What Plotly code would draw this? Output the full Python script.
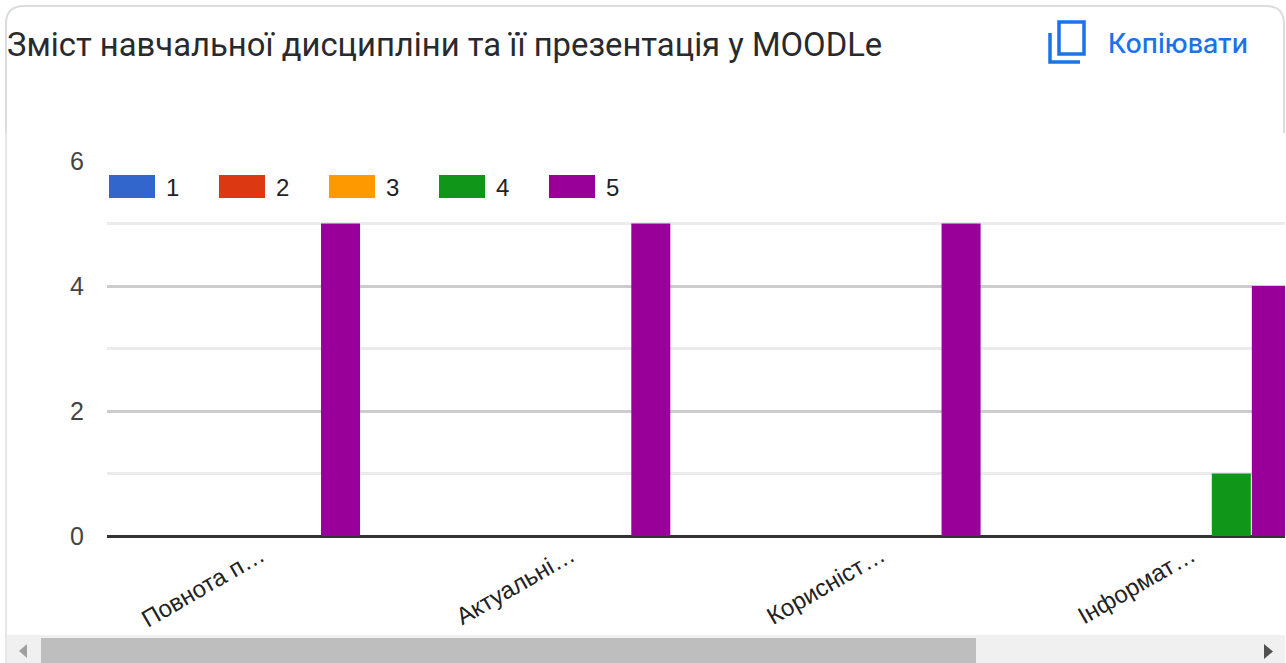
import plotly.graph_objects as go

categories = ["Повнота п…", "Актуальні…", "Корисніст…", "Інформат…"]
series_names = ["1", "2", "3", "4", "5"]
series_colors = ["#3366cc", "#dc3912", "#ff9900", "#109618", "#990099"]
values_1 = [0, 0, 0, 0]
values_2 = [0, 0, 0, 0]
values_3 = [0, 0, 0, 0]
values_4 = [0, 0, 0, 1]
values_5 = [5, 5, 5, 4]
all_values = [values_1, values_2, values_3, values_4, values_5]
title_text = "Зміст навчальної дисципліни та її презентація у MOODLe"
copy_text = "Копіювати"

W, H = 1286, 663
L, R, T, B = 107, 1285, 161, 536


def px(x):
    return (x - L) / (R - L)


def py(y):
    return (B - y) / (B - T)


def rect(x0, y0, x1, y1, fill, line=None, layer="above"):
    return dict(type="rect", xref="paper", yref="paper", x0=px(x0), x1=px(x1), y0=py(y0), y1=py(y1),
                fillcolor=fill, line=dict(width=0 if line is None else 1, color=line or fill), layer=layer)


def path(points, fill=None, color=None, width=0, closed=False):
    d = "M" + " L".join(f"{px(a)},{py(b)}" for a, b in points) + (" Z" if closed else "")
    return dict(type="path", xref="paper", yref="paper", path=d, fillcolor=fill or "rgba(0,0,0,0)",
                line=dict(color=color or "rgba(0,0,0,0)", width=width))


fig = go.Figure()
for name, color, vals in zip(series_names, series_colors, all_values):
    fig.add_bar(x=categories, y=vals, name=name, marker=dict(color=color, line=dict(width=0)), cliponaxis=True)

shapes = []
annots = []

# Legend row
swatch_x = [109, 219, 329, 439, 549]
for sx, name, color in zip(swatch_x, series_names, series_colors):
    shapes.append(rect(sx, 175, sx + 46, 198, color))
    annots.append(dict(text=name, xref="paper", yref="paper", x=px(sx + 55), y=py(187), xanchor="left",
                       yanchor="middle", showarrow=False,
                       font=dict(family="Liberation Sans", size=24, color="#222222")))

# Card border
c = "#dadce0"
shapes.append(dict(type="path", xref="paper", yref="paper", line=dict(color=c, width=2), fillcolor="rgba(0,0,0,0)",
                   path=f"M{px(6)},{py(133)} L{px(6)},{py(24)} Q{px(6)},{py(6)} {px(24)},{py(6)} "
                        f"L{px(1266)},{py(6)} Q{px(1284)},{py(6)} {px(1284)},{py(24)} L{px(1284)},{py(133)}"))
shapes.append(path([(6, 133), (6, 663)], color="#e6e6ee", width=2))

# Scrollbar
shapes.append(rect(7, 635, 1285, 663, "#f0f0f0"))
shapes.append(rect(41, 638, 976, 663, "#bebebe"))
shapes.append(path([(27, 644), (27, 658), (19, 651)], fill="#a0a0a0", closed=True))
shapes.append(path([(1264, 644), (1264, 659), (1273, 651.5)], fill="#505050", closed=True))

# Copy icon
blue = "#1a73e8"
shapes.append(dict(type="path", xref="paper", yref="paper", line=dict(color=blue, width=3.5), fillcolor="rgba(0,0,0,0)",
                   path=f"M{px(1059)},{py(22)} L{px(1084)},{py(22)} L{px(1084)},{py(54)} L{px(1059)},{py(54)} Z"))
shapes.append(path([(1050, 33), (1050, 62), (1080, 62)], color=blue, width=3.5))

annots.append(dict(text=title_text, xref="paper", yref="paper", x=px(5), y=py(45), xanchor="left", yanchor="middle",
                   showarrow=False, font=dict(family="Roboto", size=32.8, color="#282a2e")))
annots.append(dict(text=copy_text, xref="paper", yref="paper", x=px(1106), y=py(43), xanchor="left", yanchor="middle",
                   showarrow=False, font=dict(family="Inter", size=27, color=blue, weight=500)))

fig.update_layout(
    width=W, height=H,
    margin=dict(l=L, r=W - R, t=T, b=H - B, pad=0),
    paper_bgcolor="white", plot_bgcolor="white",
    barmode="group", bargap=0.355, bargroupgap=0.025,
    showlegend=False, shapes=shapes, annotations=annots,
    xaxis=dict(range=[-0.4947, 3.302], showgrid=False, zeroline=False, showline=False, ticks="",
               tickangle=-30, ticklen=0, automargin=False,
               tickfont=dict(family="Liberation Sans", size=24, color="#222222")),
    yaxis=dict(range=[0, 6], tickvals=[0, 2, 4, 6], showgrid=True, gridcolor="#cccccc", gridwidth=3,
               minor=dict(tickvals=[1, 3, 5], showgrid=True, gridcolor="#ebebeb", gridwidth=3, ticks=""),
               zeroline=True, zerolinecolor="#333333", zerolinewidth=3, showline=False, ticks="",
               ticklabelstandoff=22, automargin=False,
               tickfont=dict(family="Liberation Sans", size=25, color="#444444")),
)

fig.write_html("out.html", config=dict(displayModeBar=False),
               post_script="document.body.style.margin='0';document.body.style.overflow='hidden';")
